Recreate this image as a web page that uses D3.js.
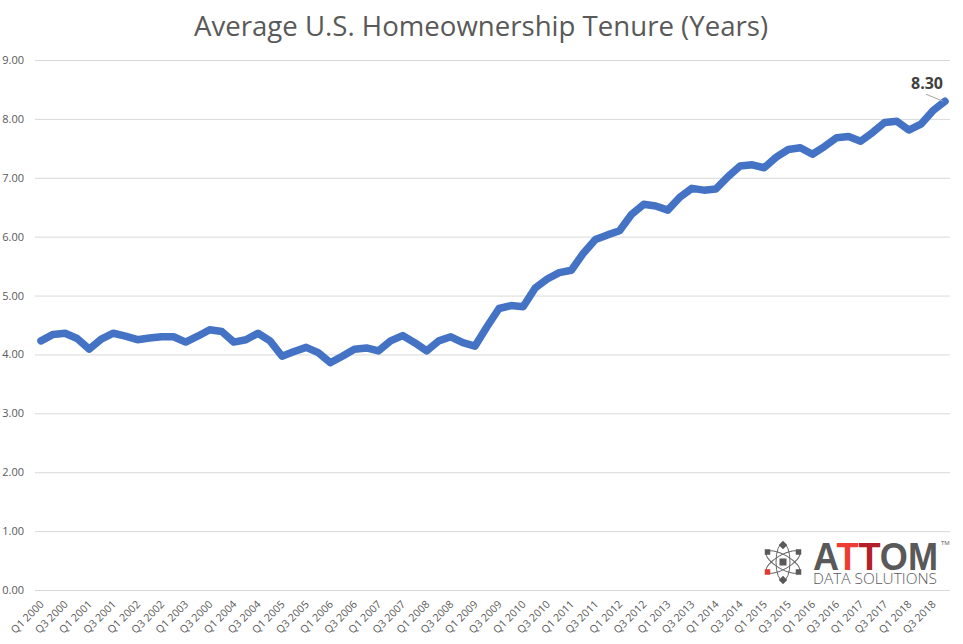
<!DOCTYPE html>
<meta charset="utf-8">
<style>
  html, body { margin: 0; padding: 0; background: #fff; }
  svg { display: block; }
  text { font-family: "Open Sans", sans-serif; }
</style>
<body>
<script src="https://d3js.org/d3.v7.min.js"></script>
<script>

var width = 963,
    height = 644;

var title = "Average U.S. Homeownership Tenure (Years)";

// one label per two quarters, "Q3 2000" repeats where Q3 2003 should be, same as the source
var tickLabels = [
  "Q1 2000", "Q3 2000", "Q1 2001", "Q3 2001", "Q1 2002", "Q3 2002", "Q1 2003", "Q3 2000",
  "Q1 2004", "Q3 2004", "Q1 2005", "Q3 2005", "Q1 2006", "Q3 2006", "Q1 2007", "Q3 2007",
  "Q1 2008", "Q3 2008", "Q1 2009", "Q3 2009", "Q1 2010", "Q3 2010", "Q1 2011", "Q3 2011",
  "Q1 2012", "Q3 2012", "Q1 2013", "Q3 2013", "Q1 2014", "Q3 2014", "Q1 2015", "Q3 2015",
  "Q1 2016", "Q3 2016", "Q1 2017", "Q3 2017", "Q1 2018", "Q3 2018"
];

// quarterly values, Q1 2000 to Q4 2018
var tenure = [
  4.23, 4.34, 4.36, 4.27, 4.09, 4.26, 4.36, 4.31, 4.25, 4.28, 4.30, 4.30, 4.21, 4.31, 4.42, 4.39,
  4.21, 4.25, 4.36, 4.23, 3.97, 4.05, 4.12, 4.03, 3.86, 3.97, 4.09, 4.11, 4.06, 4.23, 4.32, 4.20,
  4.06, 4.23, 4.30, 4.20, 4.14, 4.47, 4.78, 4.83, 4.81, 5.13, 5.28, 5.39, 5.43, 5.72, 5.95, 6.03,
  6.10, 6.38, 6.55, 6.52, 6.45, 6.67, 6.82, 6.79, 6.81, 7.02, 7.20, 7.22, 7.17, 7.35, 7.48, 7.51,
  7.40, 7.53, 7.68, 7.70, 7.62, 7.77, 7.94, 7.96, 7.81, 7.91, 8.14, 8.30
];

var yTicks = [0, 1, 2, 3, 4, 5, 6, 7, 8, 9];

var x = d3.scaleLinear().domain([0, tenure.length - 1]).range([41, 945]);
var y = d3.scaleLinear().domain([0, 9]).range([590, 60]);

var svg = d3.select("body").append("svg")
    .attr("width", width)
    .attr("height", height);

svg.append("text")
    .attr("x", 481)
    .attr("y", 36)
    .attr("text-anchor", "middle")
    .attr("font-size", 27.6)
    .attr("fill", "#595959")
    .text(title);

// gridlines + y labels
var yAxis = svg.append("g")
    .attr("transform", "translate(35,0)")
    .call(d3.axisLeft(y).tickValues(yTicks).tickSize(-915).tickPadding(11).tickFormat(d3.format(".2f")));
yAxis.select(".domain").remove();
yAxis.selectAll("line").attr("stroke", "#d9d9d9").attr("stroke-width", 1);
yAxis.selectAll("text").attr("font-size", 11).attr("fill", "#595959")
    .style("font-family", "'Open Sans', sans-serif");

// x labels, every second quarter
var xAxis = svg.append("g")
    .attr("transform", "translate(0,590)")
    .call(d3.axisBottom(x)
      .tickValues(d3.range(0, tenure.length, 2))
      .tickSize(0)
      .tickFormat(function(d) { return tickLabels[d / 2]; }));
xAxis.select(".domain").remove();
xAxis.selectAll("text")
    .attr("font-size", 10.6)
    .attr("fill", "#595959")
    .style("font-family", "'Open Sans', sans-serif")
    .attr("text-anchor", "end")
    .attr("dx", 0)
    .attr("dy", 0)
    .attr("y", 0)
    .attr("transform", "translate(3,15) rotate(-45)");

var line = d3.line()
    .x(function(d, i) { return x(i); })
    .y(function(d) { return y(d); });

svg.append("path")
    .datum(tenure)
    .attr("fill", "none")
    .attr("stroke", "#4472c4")
    .attr("stroke-width", 7.5)
    .attr("stroke-linejoin", "round")
    .attr("stroke-linecap", "round")
    .attr("d", line);

// last point label and its leader
var last = tenure.length - 1;
svg.append("line")
    .attr("x1", x(last) - 19).attr("y1", y(tenure[last]) - 7)
    .attr("x2", x(last) - 2).attr("y2", y(tenure[last]))
    .attr("stroke", "#a6a6a6")
    .attr("stroke-width", 1);
svg.append("text")
    .attr("x", x(last) - 18)
    .attr("y", y(tenure[last]) - 12)
    .attr("text-anchor", "middle")
    .attr("font-size", 16)
    .attr("font-weight", 700)
    .attr("fill", "#404040")
    .text(d3.format(".2f")(tenure[last]));

// ATTOM logo
var logo = svg.append("g");
var cx = 783, cy = 562;
[0, 60, 120].forEach(function(a) {
  logo.append("ellipse")
      .attr("cx", cx).attr("cy", cy).attr("rx", 19).attr("ry", 7)
      .attr("transform", "rotate(" + (a + 90) + " " + cx + " " + cy + ")")
      .attr("fill", "none").attr("stroke", "#666").attr("stroke-width", 1);
});
logo.append("rect").attr("x", cx - 3.5).attr("y", cy - 3.5).attr("width", 7).attr("height", 7).attr("fill", "#595959");
[[0, -17], [0, 18]].forEach(function(p) {
  logo.append("rect")
      .attr("x", cx + p[0] - 3).attr("y", cy + p[1] - 3).attr("width", 6).attr("height", 6)
      .attr("transform", "rotate(45 " + (cx + p[0]) + " " + (cy + p[1]) + ")")
      .attr("fill", "#595959");
});
[[-15.5, -10, "#595959"], [15.5, -10, "#595959"], [15.5, 10, "#595959"], [-15.5, 10, "#e03a32"]].forEach(function(p) {
  logo.append("rect")
      .attr("x", cx + p[0] - 2.75).attr("y", cy + p[1] - 2.75).attr("width", 5.5).attr("height", 5.5)
      .attr("fill", p[2]);
});

var brand = logo.append("text")
    .attr("x", 813)
    .attr("y", 569.5)
    .attr("font-size", 38.5)
    .attr("font-weight", 700)
    .attr("textLength", 125)
    .attr("lengthAdjust", "spacingAndGlyphs")
    .attr("fill", "#595959")
    .style("font-family", "'Liberation Sans', sans-serif");
brand.append("tspan").text("A");
brand.append("tspan").attr("fill", "#ee3b33").text("T");
brand.append("tspan").attr("fill", "#b3202a").text("T");
brand.append("tspan").text("OM");

logo.append("text")
    .attr("x", 813)
    .attr("y", 583.5)
    .attr("font-size", 15)
    .attr("font-weight", 300)
    .attr("textLength", 124)
    .attr("lengthAdjust", "spacingAndGlyphs")
    .attr("fill", "#595959")
    .text("DATA SOLUTIONS");

logo.append("text")
    .attr("x", 941)
    .attr("y", 545)
    .attr("font-size", 6)
    .attr("fill", "#595959")
    .text("TM");

</script>
